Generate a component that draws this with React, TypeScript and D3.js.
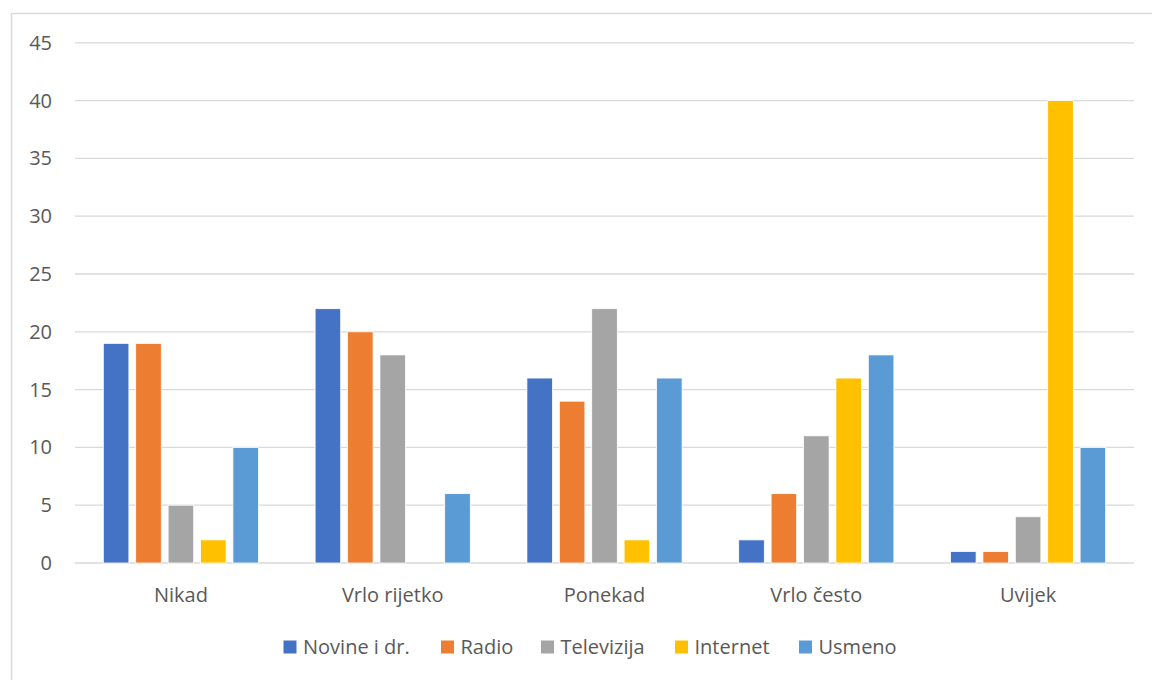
import * as d3 from "d3";

const categories = ["Nikad", "Vrlo rijetko", "Ponekad", "Vrlo često", "Uvijek"];
const seriesNames = ["Novine i dr.", "Radio", "Televizija", "Internet", "Usmeno"];
const seriesColors = ["#4472c4", "#ed7d31", "#a5a5a5", "#ffc000", "#5b9bd5"];
const novine = [19, 22, 16, 2, 1];
const radio = [19, 20, 14, 6, 1];
const televizija = [5, 18, 22, 11, 4];
const internet = [2, 0, 2, 16, 40];
const usmeno = [10, 6, 16, 18, 10];
const yTicks = [0, 5, 10, 15, 20, 25, 30, 35, 40, 45];

const values = [novine, radio, televizija, internet, usmeno];

const W = 1152;
const H = 680;
const plot = { left: 75, right: 1134, top: 42.8, bottom: 563 };
const FONT = "'Open Sans', 'Noto Sans', sans-serif";
const TEXT = "#595959";

export default function App() {
  const x = d3.scaleBand(categories, [plot.left, plot.right]);
  const y = d3.scaleLinear([0, 45], [plot.bottom, plot.top]);
  const inner = d3
    .scaleBand(seriesNames, [0, 162])
    .paddingInner(0.21)
    .paddingOuter(0.105);
  const groupOffset = (x.bandwidth() - 162) / 2;

  const legendX = [283.5, 441, 541, 675, 799];

  return (
    <svg
      width={W}
      height={H}
      style={{ position: "absolute", left: 0, top: 0, fontFamily: FONT }}
    >
      <rect x={0} y={0} width={W} height={H} fill="#fff" />
      <rect x={11.5} y={13.5} width={1200} height={700} fill="#fff" stroke="#d9d9d9" strokeWidth={1.5} />
      <g>
        {yTicks.map((t) => (
          <g key={t}>
            <line
              x1={plot.left}
              x2={plot.right}
              y1={y(t)}
              y2={y(t)}
              stroke="#d9d9d9"
              strokeWidth={1.3}
            />
            <text
              x={52}
              y={y(t)}
              dy="0.35em"
              textAnchor="end"
              fontSize={20}
              fill={TEXT}
            >
              {t}
            </text>
          </g>
        ))}
      </g>
      <g>
        {categories.map((c, ci) => (
          <g key={c} transform={`translate(${(x(c) ?? 0) + groupOffset},0)`}>
            {seriesNames.map((s, si) => {
              const v = values[si][ci];
              if (!v) return null;
              return (
                <rect
                  key={s}
                  x={inner(s)}
                  y={y(v)}
                  width={inner.bandwidth()}
                  height={y(0) - y(v)}
                  fill={seriesColors[si]}
                  stroke="#fff"
                  strokeWidth={0.8}
                />
              );
            })}
          </g>
        ))}
      </g>
      <g>
        {categories.map((c) => (
          <text
            key={c}
            x={(x(c) ?? 0) + x.bandwidth() / 2}
            y={601.5}
            textAnchor="middle"
            fontSize={20}
            fill={TEXT}
          >
            {c}
          </text>
        ))}
      </g>
      <g>
        {seriesNames.map((s, i) => (
          <g key={s} transform={`translate(${legendX[i]},640.5)`}>
            <rect width={13} height={13} fill={seriesColors[i]} />
            <text x={19.5} y={13.5} fontSize={20} fill={TEXT}>
              {s}
            </text>
          </g>
        ))}
      </g>
    </svg>
  );
}
